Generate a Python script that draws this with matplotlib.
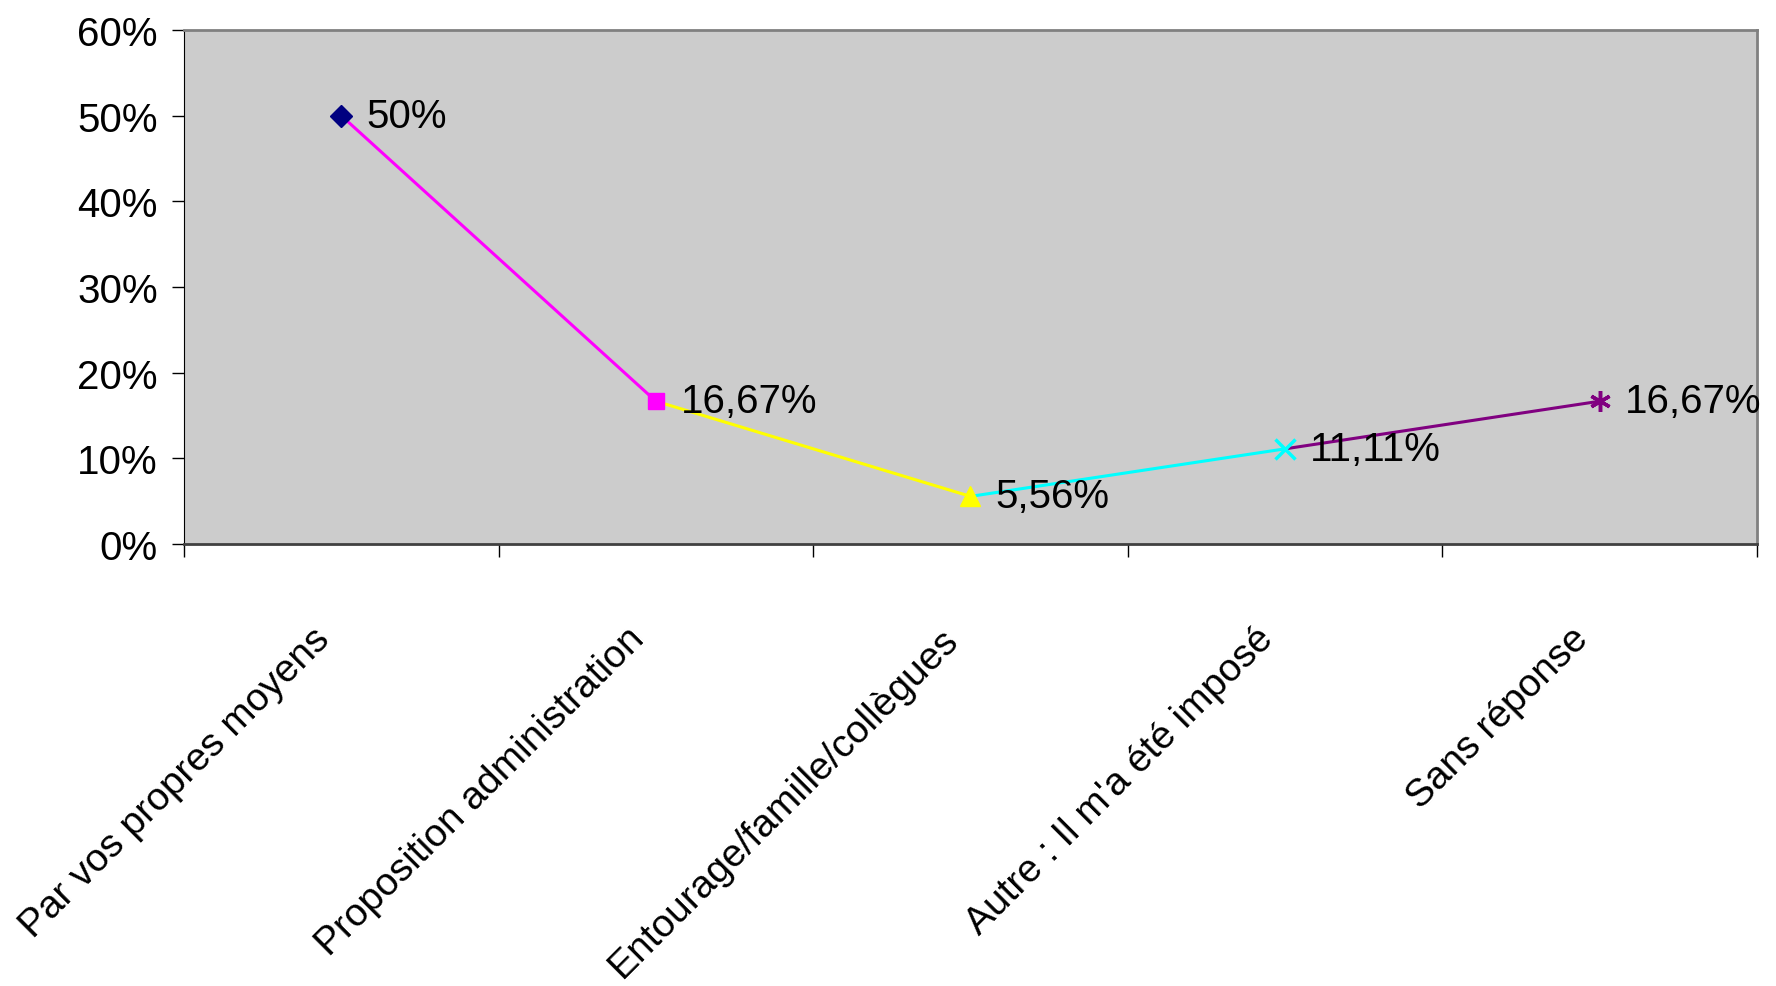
import numpy as np
import matplotlib.pyplot as plt
import matplotlib.transforms as mtransforms

plt.rcParams['font.family'] = ['Liberation Sans', 'DejaVu Sans']

categories = ['Par vos propres moyens', 'Proposition administration',
              'Entourage/famille/collègues', "Autre : Il m'a été imposé",
              'Sans réponse']
values = [0.50, 0.1667, 0.0556, 0.1111, 0.1667]
value_labels = ['50%', '16,67%', '5,56%', '11,11%', '16,67%']

# marker / colour of each point (Excel style, each segment takes the colour of the point it ends on)
point_colors = ['#000080', '#FF00FF', '#FFFF00', '#00FFFF', '#800080']
markers = ['D', 's', '^', 'x', (6, 2, 0)]
marker_sizes = [11, 12, 15, 14, 15]

fig = plt.figure(figsize=(17.76, 9.87), dpi=100)
ax = fig.add_axes([0.1036, 0.4478, 0.8857, 0.5208])
ax.set_facecolor('#CCCCCC')

x = np.arange(len(categories)) + 0.5

# line segments
for i in range(1, len(values)):
    ax.plot(x[i - 1:i + 1], values[i - 1:i + 1], color=point_colors[i], lw=2.2, zorder=2)

# markers
for i in range(len(values)):
    ax.plot(x[i], values[i], marker=markers[i], color=point_colors[i],
            markersize=marker_sizes[i], markeredgewidth=2.5 if i >= 3 else 1,
            linestyle='none', zorder=3)
    ax.annotate(value_labels[i], (x[i], values[i]), xytext=(18, 0),
                textcoords='offset points', ha='left', va='center', fontsize=29)

ax.set_xlim(0, len(categories))
ax.set_ylim(0, 0.6)
ax.set_yticks(np.arange(0, 0.61, 0.1))
ax.set_yticklabels(['{:.0f}%'.format(v * 100) for v in np.arange(0, 0.61, 0.1)], fontsize=29)
ax.tick_params(axis='y', length=9, width=1, pad=10)

ax.set_xticks(np.arange(0, len(categories) + 1), minor=False)
ax.set_xticklabels([])
ax.tick_params(axis='x', which='major', length=9, width=1, direction='out')
ax.set_xticks(x, minor=True)
ax.set_xticklabels(categories, minor=True, rotation=45, ha='right', va='top',
                   rotation_mode='anchor', fontsize=28)
ax.tick_params(axis='x', which='minor', length=0, pad=55)
shift = mtransforms.ScaledTranslation(-30 / 100, 0, fig.dpi_scale_trans)
for lab in ax.get_xticklabels(minor=True):
    lab.set_transform(lab.get_transform() + shift)

ax.spines['left'].set_color('black')
ax.spines['bottom'].set_color('#404040')
ax.spines['bottom'].set_linewidth(2)
ax.spines['top'].set_color('#808080')
ax.spines['top'].set_linewidth(2)
ax.spines['right'].set_color('#808080')
ax.spines['right'].set_linewidth(2)

fig.savefig('out.png', dpi=100)
